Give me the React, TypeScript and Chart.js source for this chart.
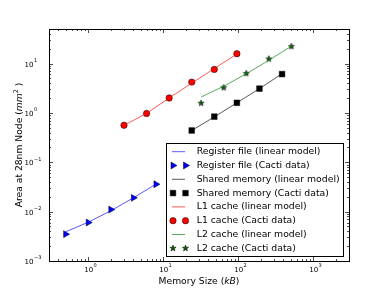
import React, { useEffect, useRef } from 'react';
import { Chart, registerables } from 'chart.js';

Chart.register(...registerables);

// ---- data ----
const rfSize = [0.5, 1, 2, 4, 8];
const rfModel = [0.0039, 0.0061, 0.0104, 0.019, 0.036];
const rfCacti = [0.0035, 0.006, 0.011, 0.019, 0.036];

const smSize = [24, 48, 96, 192, 384];
const smModel = [0.44, 0.83, 1.6, 3.1, 6.2];
const smCacti = [0.44, 0.84, 1.6, 3.1, 6.1];

const l1Size = [3, 6, 12, 24, 48, 96];
const l1Model = [0.56, 0.98, 2.0, 4.0, 7.9, 15.6];
const l1Cacti = [0.56, 0.97, 2.0, 4.2, 7.6, 15.8];

const l2Size = [32, 64, 128, 256, 512];
const l2Model = [2.1, 3.45, 6.2, 11.6, 22.5];
const l2Cacti = [1.6, 3.3, 6.4, 12.6, 22.5];

const xMin = 0.3;
const xMax = 3000;
const yMin = 0.001;
const yMax = 50;
const xTickValues = [1, 10, 100, 1000];
const xTickExps = ['0', '1', '2', '3'];
const yTickValues = [0.001, 0.01, 0.1, 1, 10];
const yTickExps = ['\u22123', '\u22122', '\u22121', '0', '1'];

const xLabelParts = [
  { t: 'Memory Size (', i: false },
  { t: 'kB', i: true },
  { t: ')', i: false },
];
const yLabelParts = [
  { t: 'Area at 28nm Node (', i: false },
  { t: 'mm', i: true },
  { t: '2', i: false, sup: true },
  { t: ' )', i: false },
];

const FONT = '"DejaVu Sans", "Liberation Sans", sans-serif';

const zip = (xs: number[], ys: number[]) => xs.map((x, i) => ({ x, y: ys[i] }));

function starPath(ctx: CanvasRenderingContext2D, cx: number, cy: number, r: number) {
  const inner = r * 0.42;
  ctx.beginPath();
  for (let i = 0; i < 10; i++) {
    const rr = i % 2 === 0 ? r : inner;
    const ang = -Math.PI / 2 + (i * Math.PI) / 5;
    const px = cx + rr * Math.cos(ang);
    const py = cy + rr * Math.sin(ang);
    if (i === 0) ctx.moveTo(px, py);
    else ctx.lineTo(px, py);
  }
  ctx.closePath();
}

function makeStar(fill: string, stroke: string, r: number) {
  const s = Math.ceil(r * 2 + 3);
  const c = document.createElement('canvas');
  c.width = s;
  c.height = s;
  const ctx = c.getContext('2d')!;
  starPath(ctx, s / 2, s / 2 + 0.4, r);
  ctx.fillStyle = fill;
  ctx.fill();
  ctx.lineWidth = 0.5;
  ctx.strokeStyle = stroke;
  ctx.stroke();
  return c;
}

function drawMarker(ctx: CanvasRenderingContext2D, kind: string, x: number, y: number, fill: string) {
  ctx.save();
  ctx.fillStyle = fill;
  ctx.strokeStyle = '#000';
  ctx.lineWidth = 0.5;
  ctx.beginPath();
  if (kind === 'tri') {
    const r = 4;
    ctx.moveTo(x + r, y);
    ctx.lineTo(x - r / 2, y - r * 0.866);
    ctx.lineTo(x - r / 2, y + r * 0.866);
    ctx.closePath();
  } else if (kind === 'rect') {
    const h = 2.8;
    ctx.rect(x - h, y - h, 2 * h, 2 * h);
  } else if (kind === 'circle') {
    ctx.arc(x, y, 3.2, 0, Math.PI * 2);
  } else if (kind === 'star') {
    starPath(ctx, x, y, 3.3);
  }
  ctx.fill();
  ctx.stroke();
  ctx.restore();
}

function drawParts(
  ctx: CanvasRenderingContext2D,
  parts: { t: string; i: boolean; sup?: boolean }[],
  cx: number,
  cy: number,
  size: number
) {
  const fontFor = (p: any) =>
    `${p.i ? 'italic ' : ''}${p.sup ? size * 0.7 : size}px ${FONT}`;
  let total = 0;
  const widths = parts.map((p) => {
    ctx.font = fontFor(p);
    const w = ctx.measureText(p.t).width;
    total += w;
    return w;
  });
  let x = cx - total / 2;
  ctx.textBaseline = 'middle';
  ctx.textAlign = 'left';
  parts.forEach((p, i) => {
    ctx.font = fontFor(p);
    ctx.fillText(p.t, x, p.sup ? cy - size * 0.4 : cy);
    x += widths[i];
  });
}

const legendEntries = [
  { label: 'Register file (linear model)', kind: 'line', color: 'rgba(0,0,255,0.65)' },
  { label: 'Register file (Cacti data)', kind: 'tri', color: '#0000ff' },
  { label: 'Shared memory (linear model)', kind: 'line', color: 'rgba(0,0,0,0.65)' },
  { label: 'Shared memory (Cacti data)', kind: 'rect', color: '#000000' },
  { label: 'L1 cache (linear model)', kind: 'line', color: 'rgba(255,0,0,0.65)' },
  { label: 'L1 cache (Cacti data)', kind: 'circle', color: '#ff0000' },
  { label: 'L2 cache (linear model)', kind: 'line', color: 'rgba(0,128,0,0.65)' },
  { label: 'L2 cache (Cacti data)', kind: 'star', color: '#0b5d0b' },
];

const mplPlugin = {
  id: 'mplAxes',
  beforeDraw(chart: any) {
    const { ctx, width, height } = chart;
    ctx.save();
    ctx.fillStyle = '#ffffff';
    ctx.fillRect(0, 0, width, height);
    ctx.restore();
  },
  afterDatasetsDraw(chart: any) {
    const { ctx, chartArea: a, scales } = chart;
    const xs = scales.x;
    const ys = scales.y;
    ctx.save();

    // ticks (inward, all four sides)
    ctx.strokeStyle = '#000';
    ctx.lineWidth = 0.7;
    for (let n = -4; n <= 4; n++) {
      for (let k = 1; k <= 9; k++) {
        const v = k * Math.pow(10, n);
        const len = k === 1 ? 4 : 2;
        if (v >= xMin * 0.9999 && v <= xMax * 1.0001) {
          const px = Math.round(xs.getPixelForValue(v)) + 0.5;
          ctx.beginPath();
          ctx.moveTo(px, a.bottom);
          ctx.lineTo(px, a.bottom - len);
          ctx.moveTo(px, a.top);
          ctx.lineTo(px, a.top + len);
          ctx.stroke();
        }
        if (v >= yMin * 0.9999 && v <= yMax * 1.0001) {
          const py = Math.round(ys.getPixelForValue(v)) + 0.5;
          ctx.beginPath();
          ctx.moveTo(a.left, py);
          ctx.lineTo(a.left + len, py);
          ctx.moveTo(a.right, py);
          ctx.lineTo(a.right - len, py);
          ctx.stroke();
        }
      }
    }

    // frame
    ctx.lineWidth = 1;
    ctx.strokeStyle = '#000';
    ctx.strokeRect(a.left + 0.5, a.top + 0.5, a.right - a.left, a.bottom - a.top);

    // tick labels
    ctx.fillStyle = '#000';
    ctx.textBaseline = 'middle';
    xTickValues.forEach((v, i) => {
      const px = xs.getPixelForValue(v);
      ctx.font = `7px ${FONT}`;
      const w = ctx.measureText('10').width;
      ctx.textAlign = 'left';
      ctx.fillText('10', px + 0.5 - w / 2, a.bottom + 9);
      ctx.font = `5px ${FONT}`;
      ctx.fillText(xTickExps[i], px + 0.5 + w / 2 + 0.4, a.bottom + 5);
    });
    yTickValues.forEach((v, i) => {
      const py = ys.getPixelForValue(v);
      ctx.font = `7px ${FONT}`;
      ctx.textAlign = 'right';
      ctx.fillText('10', 33.5, py + 1.2);
      ctx.font = `5px ${FONT}`;
      ctx.textAlign = 'left';
      ctx.fillText(yTickExps[i], 34, py - 2.8);
    });

    // axis labels
    drawParts(ctx, xLabelParts, (a.left + a.right) / 2, 281.5, 9.2);
    ctx.save();
    ctx.translate(20, (a.top + a.bottom) / 2);
    ctx.rotate(-Math.PI / 2);
    drawParts(ctx, yLabelParts, 0, 0, 9.2);
    ctx.restore();

    // legend
    const bx = 166.5, by = 143.5, bw = 177, bh = 113;
    ctx.fillStyle = '#ffffff';
    ctx.fillRect(bx, by, bw, bh);
    ctx.strokeStyle = '#000';
    ctx.lineWidth = 1;
    ctx.strokeRect(bx, by, bw, bh);
    legendEntries.forEach((e, i) => {
      const ry = 151.7 + i * 13.8;
      if (e.kind === 'line') {
        ctx.strokeStyle = e.color;
        ctx.lineWidth = 1;
        ctx.beginPath();
        ctx.moveTo(172, ry);
        ctx.lineTo(185, ry);
        ctx.stroke();
      } else {
        drawMarker(ctx, e.kind, 173, ry, e.color);
        drawMarker(ctx, e.kind, 185.5, ry, e.color);
      }
      ctx.fillStyle = '#000';
      ctx.font = `9.3px ${FONT}`;
      ctx.textAlign = 'left';
      ctx.textBaseline = 'middle';
      ctx.fillText(e.label, 196.7, ry);
    });

    ctx.restore();
  },
};

export default function App() {
  const ref = useRef<HTMLCanvasElement | null>(null);

  useEffect(() => {
    if (!ref.current) return;
    const star = makeStar('#0b5d0b', '#000', 3.3);
    const lineDs = (label: string, xs: number[], ys: number[], color: string) => ({
      label,
      data: zip(xs, ys),
      showLine: true,
      borderColor: color,
      backgroundColor: color,
      borderWidth: 1,
      pointRadius: 0,
      fill: false,
    });
    const ptDs = (label: string, xs: number[], ys: number[], style: any, fill: string, radius: number, rotation = 0) => ({
      label,
      data: zip(xs, ys),
      showLine: false,
      pointStyle: style,
      pointRotation: rotation,
      pointRadius: radius,
      pointBackgroundColor: fill,
      pointBorderColor: '#000',
      pointBorderWidth: 0.5,
      backgroundColor: fill,
      borderColor: '#000',
    });

    const chart = new Chart(ref.current, {
      type: 'scatter',
      data: {
        datasets: [
          lineDs(legendEntries[0].label, rfSize, rfModel, 'rgba(0,0,255,0.65)'),
          ptDs(legendEntries[1].label, rfSize, rfCacti, 'triangle', '#0000ff', 4, 90),
          lineDs(legendEntries[2].label, smSize, smModel, 'rgba(0,0,0,0.65)'),
          ptDs(legendEntries[3].label, smSize, smCacti, 'rect', '#000000', 4),
          lineDs(legendEntries[4].label, l1Size, l1Model, 'rgba(255,0,0,0.65)'),
          ptDs(legendEntries[5].label, l1Size, l1Cacti, 'circle', '#ff0000', 3.2),
          lineDs(legendEntries[6].label, l2Size, l2Model, 'rgba(0,128,0,0.65)'),
          ptDs(legendEntries[7].label, l2Size, l2Cacti, star, '#0b5d0b', 3.3),
        ] as any,
      },
      options: {
        animation: false,
        responsive: false,
        devicePixelRatio: 1,
        layout: { padding: { left: 49, right: 39, top: 29, bottom: 30 } },
        scales: {
          x: { type: 'logarithmic', min: xMin, max: xMax, display: false },
          y: { type: 'logarithmic', min: yMin, max: yMax, display: false },
        },
        plugins: {
          legend: { display: false },
          tooltip: { enabled: false },
        },
        events: [],
      } as any,
      plugins: [mplPlugin as any],
    });
    return () => chart.destroy();
  }, []);

  return (
    <div style={{ position: 'absolute', left: 0, top: 0, width: 388, height: 291 }}>
      <canvas ref={ref} width={388} height={291} style={{ display: 'block', width: 388, height: 291 }} />
    </div>
  );
}
